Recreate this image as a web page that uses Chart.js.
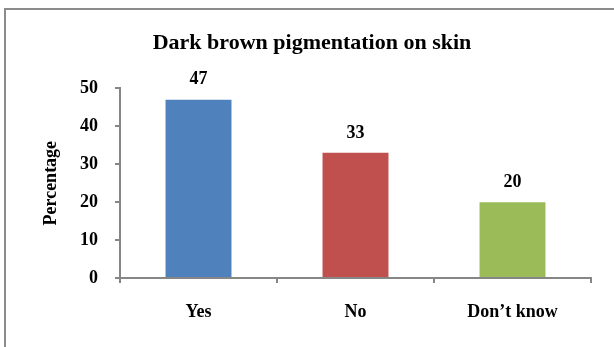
<!DOCTYPE html>
<html>
<head>
<meta charset="utf-8">
<script src="https://cdn.jsdelivr.net/npm/chart.js@4"></script>
<style>
  html, body { margin: 0; padding: 0; background: #fff; }
  .wrap { position: relative; width: 614px; height: 347px; overflow: hidden; }
  .frame {
    position: absolute; left: 4px; top: 8px; width: 700px; height: 400px;
    border-top: 2px solid #8c8c8c; border-left: 2px solid #8c8c8c;
    pointer-events: none;
  }
</style>
</head>
<body>
<div class="wrap">
  <canvas id="chart"></canvas>
  <div class="frame"></div>
</div>
<script>
// data
let categories = ['Yes', 'No', 'Don\u2019t know'];
let values = [47, 33, 20];
let barColors = ['#4f81bd', '#c0504d', '#9bbb59'];
let yTicks = [0, 10, 20, 30, 40, 50];

const serif = '"Liberation Serif", "Times New Roman", serif';
const axisGray = '#868686';

// numbers above the bars
const valueLabels = {
    id: 'valueLabels',
    afterDatasetsDraw(chart) {
        let ctx = chart.ctx;
        let meta = chart.getDatasetMeta(0);
        ctx.save();
        ctx.font = 'bold 18px ' + serif;
        ctx.fillStyle = '#000';
        ctx.textAlign = 'center';
        ctx.textBaseline = 'middle';
        meta.data.forEach((bar, i) => {
            ctx.fillText(values[i], bar.x, bar.y - 20);
        });
        ctx.restore();
    }
};

const ctx = document.getElementById('chart').getContext('2d');
const chart = new Chart(ctx, {
    type: 'bar',
    data: {
        labels: categories,
        datasets: [{
            data: values,
            backgroundColor: barColors,
            borderWidth: 0,
            categoryPercentage: 1,
            barPercentage: 0.42
        }]
    },
    options: {
        responsive: true,
        maintainAspectRatio: false,
        animation: false,
        layout: { padding: { left: 33, right: 23, top: 0, bottom: 0 } },
        plugins: {
            legend: { display: false },
            tooltip: { enabled: false },
            title: {
                display: true,
                text: 'Dark brown pigmentation on skin',
                color: '#000',
                font: { family: serif, size: 22, weight: 'bold' },
                padding: { top: 30, bottom: 32 }
            }
        },
        scales: {
            x: {
                grid: { display: true, drawOnChartArea: false, drawTicks: true, tickLength: 5, color: axisGray, lineWidth: 2 },
                border: { display: true, color: axisGray, width: 2 },
                ticks: { color: '#000', padding: 19, font: { family: serif, size: 18, weight: 'bold' } },
                afterFit(scale) { scale.height = 69; }
            },
            y: {
                min: 0,
                max: 50,
                afterBuildTicks(scale) { scale.ticks = yTicks.map(v => ({ value: v })); },
                grid: { display: true, drawOnChartArea: false, drawTicks: true, tickLength: 5, color: axisGray, lineWidth: 2 },
                border: { display: true, color: axisGray, width: 2 },
                ticks: { color: '#000', padding: 17, font: { family: serif, size: 18, weight: 'bold' } },
                title: {
                    display: true,
                    text: 'Percentage',
                    color: '#000',
                    font: { family: serif, size: 18, weight: 'bold' },
                    padding: { top: 8, bottom: 0 }
                },
                afterFit(scale) { scale.width = 87; }
            }
        }
    },
    plugins: [valueLabels]
});
</script>
</body>
</html>
